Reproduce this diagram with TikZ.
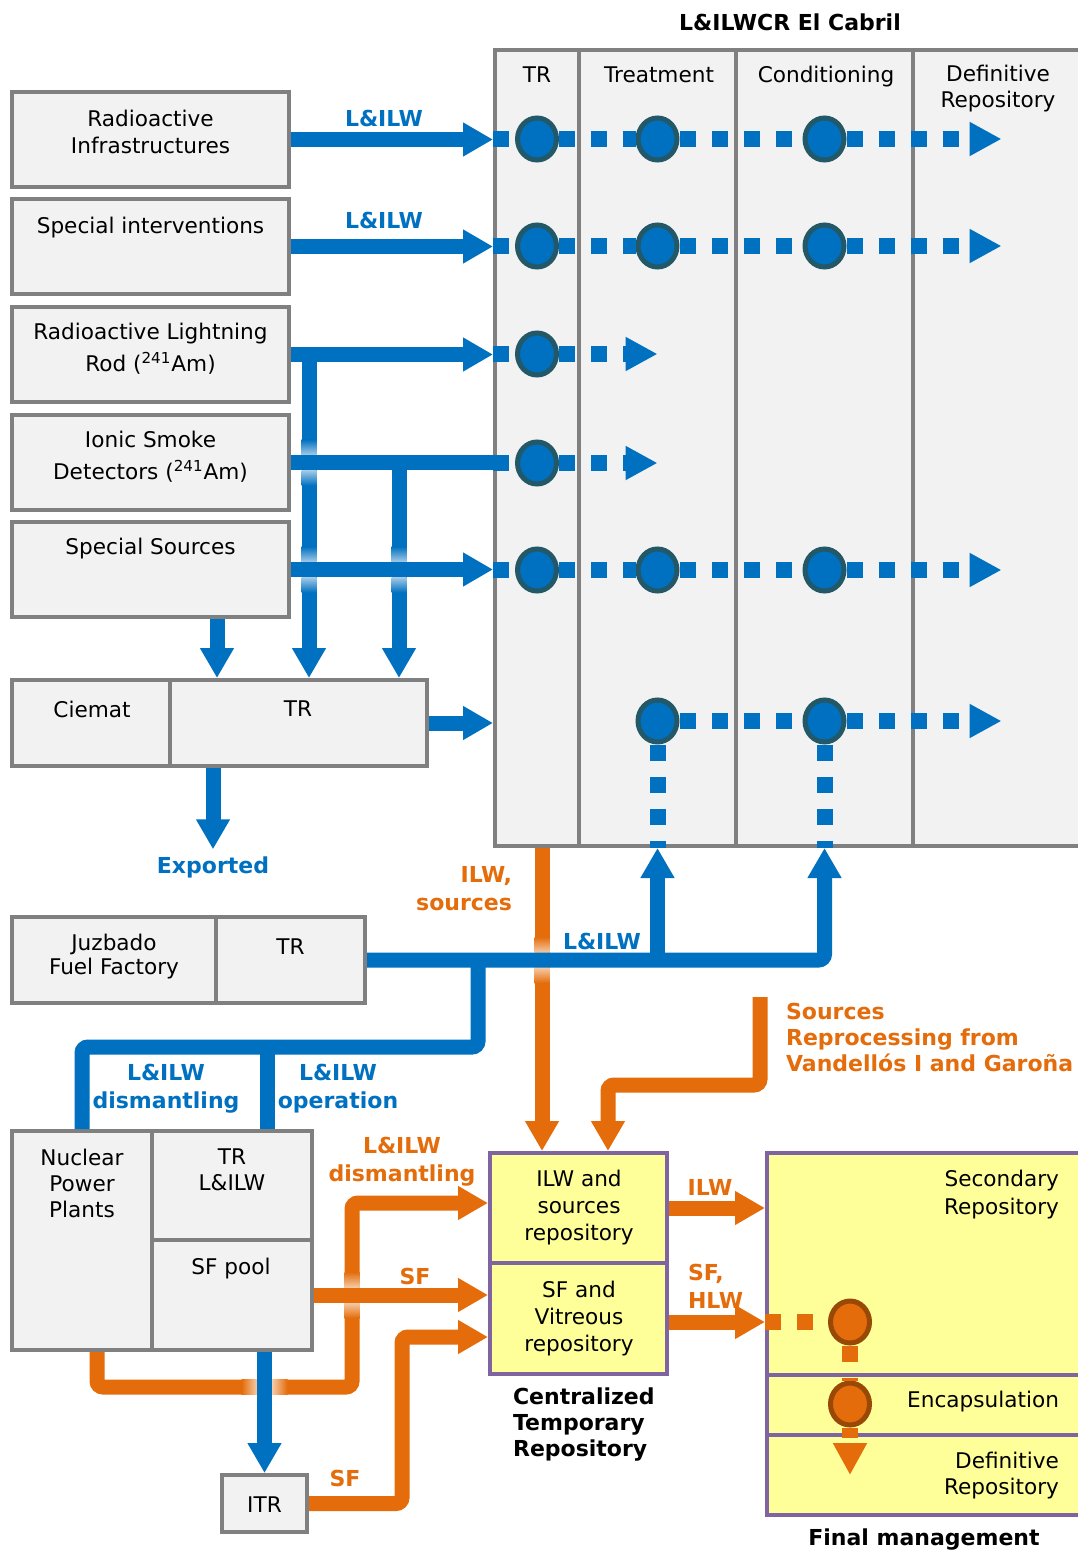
\documentclass[tikz,border=0pt]{standalone}
\usepackage{fontspec}
\setmainfont{DejaVu Sans}
\usetikzlibrary{arrows.meta,positioning,shapes.geometric}
\definecolor{cblue}{RGB}{0,112,192}
\definecolor{cring}{RGB}{35,88,105}
\definecolor{corg}{RGB}{228,108,10}
\definecolor{oring}{RGB}{152,72,7}
\definecolor{boxgray}{RGB}{128,128,128}
\definecolor{boxfill}{RGB}{242,242,242}
\definecolor{ctryel}{RGB}{255,255,153}
\definecolor{ctrpur}{RGB}{128,100,162}
% fading of a line that passes under another one
\newcommand{\vfade}[2]{%
  \shade[top color=#2, bottom color=#2!35] ([xshift=-3.75pt,yshift=3.75pt]#1) rectangle ([xshift=3.75pt,yshift=11.5pt]#1);
  \shade[top color=#2!35, bottom color=#2] ([xshift=-3.75pt,yshift=-11.5pt]#1) rectangle ([xshift=3.75pt,yshift=-3.75pt]#1);}
\newcommand{\hfade}[2]{%
  \shade[left color=#2, right color=#2!35] ([xshift=-11.5pt,yshift=-3.75pt]#1) rectangle ([xshift=-3.75pt,yshift=3.75pt]#1);
  \shade[left color=#2!35, right color=#2] ([xshift=3.75pt,yshift=-3.75pt]#1) rectangle ([xshift=11.5pt,yshift=3.75pt]#1);}
\begin{document}
\begin{tikzpicture}[x=0.5pt, y=-0.5pt, font=\fontsize{10.8}{13.5}\selectfont,
  every node/.style={align=center},
  box/.style={draw=boxgray, line width=2pt, fill=boxfill, inner sep=0pt},
  ybox/.style={draw=ctrpur, line width=2pt, fill=ctryel, inner sep=0pt},
  circ/.style={ellipse, draw=cring, line width=2.5pt, fill=cblue, minimum width=19.5pt, minimum height=21pt, inner sep=0pt},
  ocirc/.style={circ, draw=oring, fill=corg},
  bline/.style={draw=cblue, line width=7.5pt},
  barr/.style={bline, -{Triangle[length=15pt,width=16pt]}},
  oline/.style={draw=corg, line width=7.5pt},
  oarr/.style={oline, -{Triangle[length=15pt,width=16pt]}},
  bdots/.style={bline, line width=8pt, dash pattern=on 8pt off 8pt},
  bdarr/.style={bdots, -{Triangle[length=16pt,width=16pt]}},
  odots/.style={oline, line width=8pt, dash pattern=on 8pt off 8pt},
  odarr/.style={odots, dash pattern=on 5pt off 20pt, -{Triangle[length=16pt,width=16pt]}},
  blbl/.style={font=\fontsize{11}{14}\selectfont\bfseries, text=cblue, align=center},
  olbl/.style={blbl, text=corg},
  klbl/.style={blbl, text=black}]
\path[use as bounding box, fill=white] (0,0) rectangle (1077,1551);

% El Cabril
\node[klbl] (cabtitle) at (790,22) {L\&ILWCR El Cabril};
\node[box, minimum width=42pt, minimum height=398pt] (coltr) at (537,448) {};
\node[box, minimum width=78.5pt, minimum height=398pt] (coltreat) at (657.5,448) {};
\node[box, minimum width=88.5pt, minimum height=398pt] (colcond) at (824.5,448) {};
\node[box, minimum width=88.5pt, minimum height=398pt] (coldef) at (1001.5,448) {};
\node (coltr-t) at (537,75) {TR};
\node (coltreat-t) at (659,75) {Treatment};
\node (colcond-t) at (826,77) {Conditioning};
\node[font=\fontsize{10.8}{13}\selectfont] (coldef-t) at (998,89) {Definitive\\Repository};

% producers
\node[box, minimum width=138.5pt, minimum height=47.5pt] (rinfra) at (150.5,139.5) {};
\node (rinfra-t) at (150.5,132) {Radioactive\\Infrastructures};
\node[box, minimum width=138.5pt, minimum height=47.5pt] (spint) at (150.5,246.5) {};
\node (spint-t) at (150.5,228) {Special interventions};
\node[box, minimum width=138.5pt, minimum height=47.5pt] (lrod) at (150.5,354.5) {};
\node[font=\fontsize{10.8}{16}\selectfont] (lrod-t) at (150.5,349) {Radioactive Lightning\\Rod (\textsuperscript{241}Am)};
\node[box, minimum width=138.5pt, minimum height=47.5pt] (smoke) at (150.5,462.5) {};
\node[font=\fontsize{10.8}{16}\selectfont] (smoke-t) at (150.5,457) {Ionic Smoke\\Detectors (\textsuperscript{241}Am)};
\node[box, minimum width=138.5pt, minimum height=47.5pt] (ssrc) at (150.5,569.5) {};
\node (ssrc-t) at (150.5,549) {Special Sources};

\node[box, minimum width=79pt, minimum height=43pt] (ciemat) at (91,723) {};
\node[box, minimum width=128.5pt, minimum height=43pt] (ctr) at (298.5,723) {};
\node (ciemat-t) at (92,709) {Ciemat};
\node (ctr-t) at (298,709) {TR};

\node[box, minimum width=102pt, minimum height=43pt] (juz) at (114,960) {};
\node[box, minimum width=74.5pt, minimum height=43pt] (jtr) at (290.5,960) {};
\node[font=\fontsize{10.8}{12}\selectfont] (juz-t) at (114,957) {Juzbado\\Fuel Factory};
\node (jtr-t) at (290.5,947) {TR};

\node[box, minimum width=70pt, minimum height=109.5pt] (npp) at (82,1240.5) {};
\node[box, minimum width=80pt, minimum height=54.5pt] (nptr) at (232,1185.5) {};
\node[box, minimum width=80pt, minimum height=55pt] (sfpool) at (232,1295) {};
\node[font=\fontsize{10.8}{13}\selectfont] (npp-t) at (82,1183) {Nuclear\\Power\\Plants};
\node[font=\fontsize{10.8}{13}\selectfont] (nptr-t) at (232,1170) {TR\\L\&ILW};
\node (sfpool-t) at (231,1269) {SF pool};
\node[box, minimum width=42.5pt, minimum height=28.5pt] (itr) at (264.5,1503.5) {};
\node (itr-t) at (264.5,1505) {ITR};

% centralized temporary repository and final management
\node[ybox, minimum width=88.5pt, minimum height=55pt] (ilwrep) at (578.5,1208) {};
\node[ybox, minimum width=88.5pt, minimum height=55.5pt] (sfrep) at (578.5,1318.5) {};
\node (ilwrep-t) at (579,1208) {ILW and\\sources\\repository};
\node (sfrep-t) at (579,1319) {SF and\\Vitreous\\repository};
\node[klbl, anchor=west, align=left, font=\fontsize{11}{13}\selectfont\bfseries] (ctrlbl) at (506,1424) {Centralized\\Temporary\\Repository};

\node[ybox, minimum width=161.5pt, minimum height=111pt] (secrep) at (928.5,1264) {};
\node[ybox, minimum width=161.5pt, minimum height=30pt] (encap) at (928.5,1405) {};
\node[ybox, minimum width=161.5pt, minimum height=40pt] (defrep) at (928.5,1475) {};
\node[anchor=east, align=right, font=\fontsize{10.8}{14}\selectfont] (secrep-t) at (1066,1195) {Secondary\\Repository};
\node[anchor=east] (encap-t) at (1066,1402) {Encapsulation};
\node[anchor=east, align=right, font=\fontsize{10.8}{13}\selectfont] (defrep-t) at (1066,1476) {Definitive\\Repository};
\node[klbl] (fmlbl) at (924,1539) {Final management};

% flows inside El Cabril
\foreach \r/\y in {1/139,2/246,5/570}{
  \node[circ] (c\r1) at (537,\y) {};
  \node[circ] (c\r2) at (657.5,\y) {};
  \node[circ] (c\r3) at (824.5,\y) {};
  \draw[bdots] (coltr.west |- c\r1) -- (c\r1);
  \draw[bdots] (c\r1) -- (c\r2);
  \draw[bdots] (c\r2) -- (c\r3);
  \draw[bdarr] (c\r3) -- (c\r3 -| coldef);
}
\foreach \r/\y in {3/354,4/463}{
  \node[circ] (c\r1) at (537,\y) {};
  \draw[bdots] (coltr.west |- c\r1) -- (c\r1);
  \draw[bdarr] (c\r1) -- (c\r1 -| coltreat);
}
\node[circ] (c62) at (657.5,721) {};
\node[circ] (c63) at (824.5,721) {};
\draw[bdots] (c62) -- (c63);
\draw[bdarr] (c63) -- (c63 -| coldef);
\draw[bdots] (c62) -- (c62 |- coltreat.south);
\draw[bdots] (c63) -- (c63 |- colcond.south);

% blue inputs
\coordinate (rodjoin) at ([xshift=9pt]lrod.east);
\coordinate (smokejoin) at ([xshift=54pt]smoke.east);
\coordinate (ssrcout) at ([xshift=33.25pt]ssrc.south);
\draw[barr] (rodjoin) -- (rodjoin |- ctr.north);
\draw[barr] (smokejoin) -- (smokejoin |- ctr.north);
\draw[barr] (ssrcout) -- (ssrcout |- ctr.north);
\coordinate (x1) at (rodjoin |- smoke.east);
\coordinate (x2) at (rodjoin |- ssrc.east);
\coordinate (x3) at (smokejoin |- ssrc.east);
\vfade{x1}{cblue}
\vfade{x2}{cblue}
\vfade{x3}{cblue}
\draw[barr] (rinfra.east) -- (rinfra.east -| coltr.west);
\draw[barr] (spint.east) -- (spint.east -| coltr.west);
\draw[barr] (lrod.east) -- (lrod.east -| coltr.west);
\draw[bline] (smoke.east) -- (smoke.east -| coltr.west);
\draw[barr] (ssrc.east) -- (ssrc.east -| coltr.west);
\node[blbl] (l1) at (384,118) {L\&ILW};
\node[blbl] (l2) at (384,220) {L\&ILW};

\draw[barr] (ctr.east) -- (ctr.east -| coltr.west);
\node[blbl] (exported) at (213,867) {Exported};
\coordinate (expout) at ([xshift=-42.75pt]ctr.south);
\draw[barr] (expout) -- (expout |- exported.north);

% El Cabril to the CTR
\coordinate (cabout) at ([xshift=2.5pt]coltr.south);
\draw[oarr] (cabout) -- (cabout |- ilwrep.north);
\coordinate (x4) at (cabout |- jtr.east);
\vfade{x4}{corg}
\node[olbl, anchor=east, align=right] (ilwsrc) at (519,889) {ILW,\\sources};

% Juzbado and nuclear power plants
\draw[barr, rounded corners=3pt] (jtr.east) -- (jtr.east -| c63) -- (c63 |- colcond.south);
\draw[barr] (jtr.east -| c62) -- (c62 |- coltreat.south);
\node[blbl] (l3) at (602,941) {L\&ILW};
\coordinate (juzdown) at ([xshift=55.5pt]jtr.east);
\draw[bline, rounded corners=3pt] (juzdown) -- ++(0,87) -| (npp.north);
\coordinate (nppop) at ([xshift=17.5pt]nptr.north);
\draw[bline] (nppop) -- ++(0,-84);
\node[blbl] (l4) at (166,1089) {L\&ILW\\dismantling};
\node[blbl] (l5) at (338,1089) {L\&ILW\\operation};

% orange flows
\node[olbl, anchor=west, align=left, font=\fontsize{11}{13}\selectfont\bfseries] (reproc) at (779,1037) {Sources\\Reprocessing from\\Vandellós I and Garoña};
\coordinate (reprocsrc) at (760,997);
\draw[oarr, rounded corners=3pt] (reprocsrc) -- ++(0,88) -| ([xshift=14.75pt]ilwrep.north);

\coordinate (nppdis) at ([xshift=7.5pt]npp.south);
\coordinate (nppbend) at ([xshift=127.5pt,yshift=-17.5pt]nppdis);
\draw[oarr, rounded corners=3pt] (nppdis) |- (nppbend) |- ([yshift=2.5pt]ilwrep.west);
\coordinate (x5) at (nppbend |- sfpool.east);
\coordinate (x6) at (nppbend -| itr.north);
\vfade{x5}{corg}
\hfade{x6}{corg}
\draw[barr] (sfpool.south -| itr.north) -- (itr.north);
\draw[oarr] (sfpool.east) -- (sfpool.east -| sfrep.west);
\draw[oarr, rounded corners=3pt] (itr.east) -- ++(93,0) |- ([yshift=-9.25pt]sfrep.west);
\node[olbl] (l6) at (402,1162) {L\&ILW\\dismantling};
\node[olbl] (l7) at (415,1276) {SF};
\node[olbl] (l8) at (345,1478) {SF};

% to final management
\draw[oarr] (ilwrep.east) -- (ilwrep.east -| secrep.west);
\draw[oarr] ([yshift=-1.75pt]sfrep.east) -- ([yshift=-1.75pt]sfrep.east -| secrep.west);
\node[olbl] (l9) at (710,1187) {ILW};
\node[olbl, anchor=west, align=left] (l10) at (681,1286) {SF,\\HLW};
\node[ocirc] (o1) at (850,1322) {};
\node[ocirc] (o2) at (850,1404) {};
\draw[odots] ([yshift=-1.75pt]sfrep.east -| secrep.west) -- (o1);
\draw[odots] (o1) -- (o2);
\draw[odarr] (o2) -- (o2 |- defrep);
\end{tikzpicture}
\end{document}
